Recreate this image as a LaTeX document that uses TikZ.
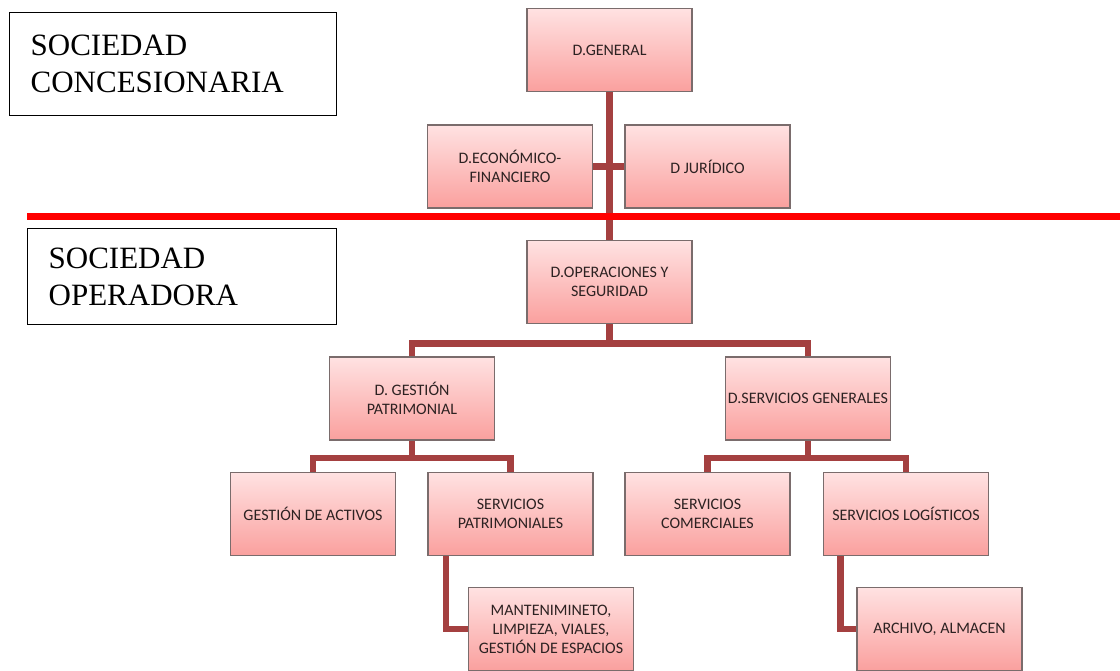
\documentclass[tikz,border=0pt]{standalone}
\usepackage{fontspec}
\setmainfont{Liberation Serif}
\newfontfamily\boxfont{Carlito}
\usetikzlibrary{calc}
\definecolor{boxtop}{RGB}{255,226,226}
\definecolor{boxbot}{RGB}{250,160,158}
\definecolor{boxedge}{RGB}{122,108,108}
\definecolor{connred}{RGB}{164,64,64}
\definecolor{boxtext}{RGB}{45,34,34}
\begin{document}
\begin{tikzpicture}[x=1pt,y=-1pt,
  orgbox/.style={draw=boxedge, line width=1.6pt, top color=boxtop, bottom color=boxbot,
    minimum width=165pt, minimum height=83pt, inner sep=0pt, align=center,
    text=boxtext, font=\boxfont\fontsize{16}{19}\selectfont},
  conn/.style={draw=connred, line width=6.5pt, line join=miter},
  tagbox/.style={draw=black, line width=1.3pt, anchor=north west, align=left,
    inner xsep=21pt, inner ysep=0pt, font=\fontsize{31}{37}\selectfont}]
\useasboundingbox (0,0) rectangle (1120,671);
\fill[white] (0,0) rectangle (1120,671);

% company labels
\node[tagbox, minimum width=327pt, minimum height=103pt, text width=285pt] (conc) at (9,12)
  {SOCIEDAD\\CONCESIONARIA};
\node[tagbox, minimum width=309pt, minimum height=96pt, text width=267pt] (oper) at (27,228)
  {SOCIEDAD\\OPERADORA};

% organisation boxes
\node[orgbox] (gen)  at (609.5,50)  {D.GENERAL};
\node[orgbox] (eco)  at (510,166.5) {D.ECONÓMICO-\\FINANCIERO};
\node[orgbox] (jur)  at (707.5,166.5) {D JURÍDICO};
\node[orgbox] (ops)  at (609.5,282) {D.OPERACIONES Y\\SEGURIDAD};
\node[orgbox] (gp)   at (412,398.5) {D. GESTIÓN\\PATRIMONIAL};
\node[orgbox] (sg)   at (808,398.5) {D.SERVICIOS GENERALES};
\node[orgbox] (ga)   at (313,514)   {GESTIÓN DE ACTIVOS};
\node[orgbox] (sp)   at (510.5,514) {SERVICIOS\\PATRIMONIALES};
\node[orgbox] (sc)   at (707.5,514) {SERVICIOS\\COMERCIALES};
\node[orgbox] (sl)   at (906,514)   {SERVICIOS LOGÍSTICOS};
\node[orgbox] (mant) at (551,629)   {MANTENIMINETO,\\LIMPIEZA, VIALES,\\GESTIÓN DE ESPACIOS};
\node[orgbox] (arch) at (939.5,629) {ARCHIVO, ALMACEN};

% connectors
\draw[conn] (gen.south) -- (ops.north);
\draw[conn] (eco.east) -- (jur.west);
\draw[conn] (ops.south) -- ++(0,19);
\draw[conn] (gp.north) |- ($(ops.south)+(0,19)$) -| (sg.north);
\draw[conn] (gp.south) -- ++(0,17);
\draw[conn] (ga.north) |- ($(gp.south)+(0,17)$) -| (sp.north);
\draw[conn] (sg.south) -- ++(0,17);
\draw[conn] (sc.north) |- ($(sg.south)+(0,17)$) -| (sl.north);
\draw[conn] ($(sp.south west)+(19,0)$) |- (mant.west);
\draw[conn] ($(sl.south west)+(18,0)$) |- (arch.west);

% divider between the two companies
\coordinate (divL) at (27,217);
\coordinate (divR) at (1120,217);
\draw[red, line width=7pt] (divL) -- (divR);
\end{tikzpicture}
\end{document}
